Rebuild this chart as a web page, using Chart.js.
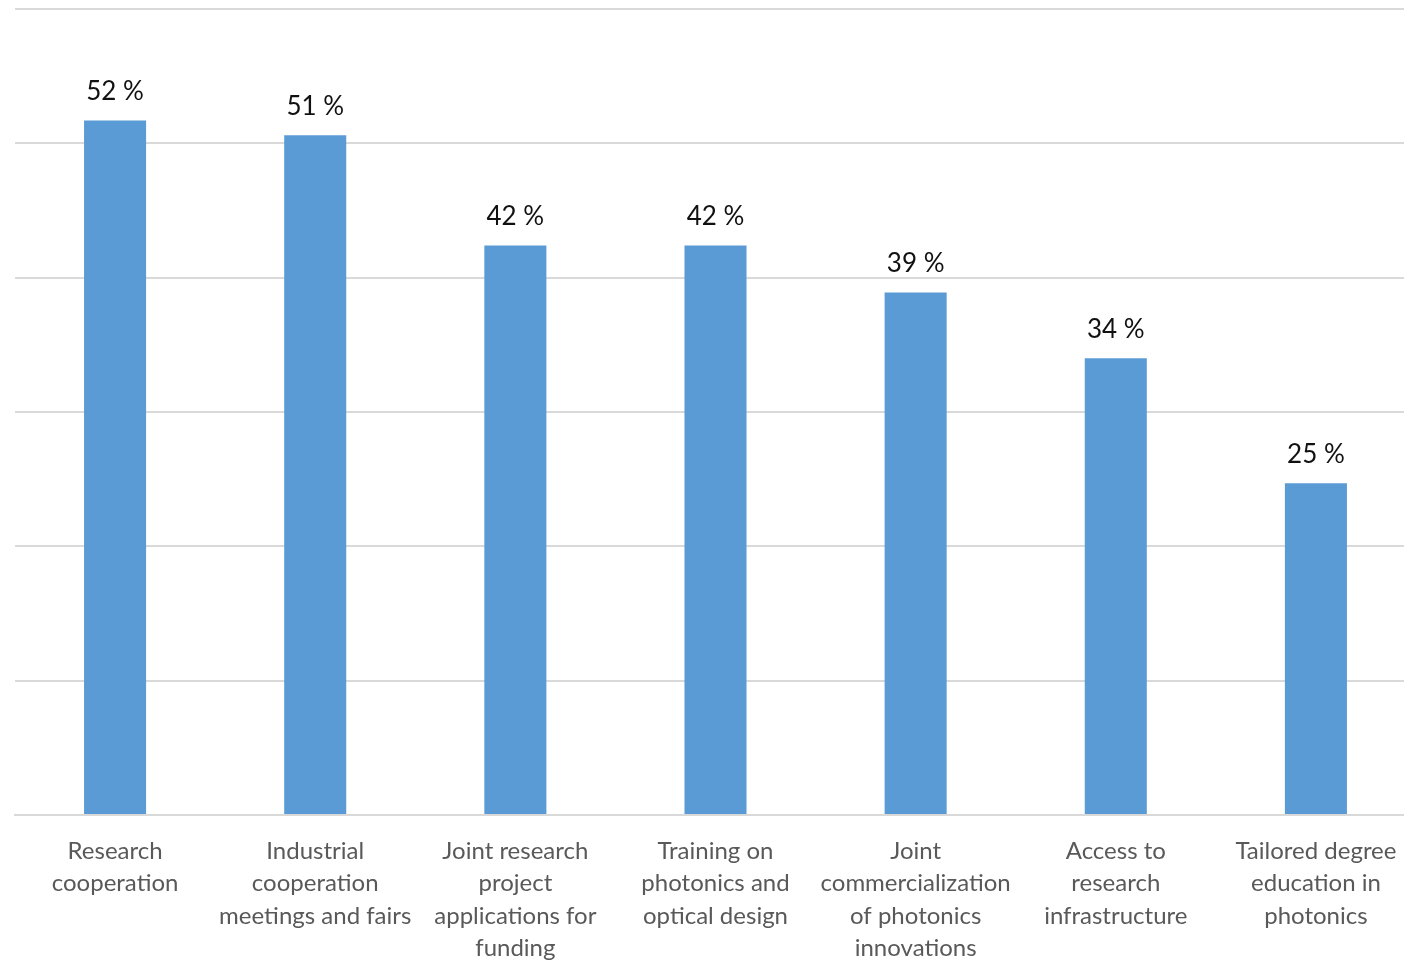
<!DOCTYPE html>
<html>
<head>
<meta charset="utf-8">
<script src="https://cdn.jsdelivr.net/npm/chart.js@4"></script>
<style>
  html, body { margin: 0; padding: 0; background: #fff; overflow: hidden; }
  #wrap { width: 1416px; height: 961px; }
</style>
</head>
<body>
<div id="wrap"><canvas id="chart" width="1416" height="961"></canvas></div>
<script>
// ==========================
//  DATA
// ==========================
const categories = [
  ['Research', 'cooperation'],
  ['Industrial', 'cooperation', 'meetings and fairs'],
  ['Joint research', 'project', 'applications for', 'funding'],
  ['Training on', 'photonics and', 'optical design'],
  ['Joint', 'commercialization', 'of photonics', 'innovations'],
  ['Access to', 'research', 'infrastructure'],
  ['Tailored degree', 'education in', 'photonics']
];
const shares = [51.7, 50.6, 42.4, 42.4, 38.9, 34.0, 24.7];
const yTicks = [0, 10, 20, 30, 40, 50, 60];

// ==========================
//  LABELS ON TOP OF BARS
// ==========================
const barLabels = {
  id: 'barLabels',
  afterDatasetsDraw(chart) {
    const ctx = chart.ctx;
    const meta = chart.getDatasetMeta(0);
    ctx.save();
    ctx.font = '26px Lato';
    ctx.fillStyle = '#111';
    ctx.textAlign = 'center';
    ctx.textBaseline = 'bottom';
    meta.data.forEach((bar, i) => {
      ctx.fillText(Math.round(shares[i]) + ' %', bar.x, bar.y - 16);
    });
    ctx.restore();
  }
};

new Chart(document.getElementById('chart'), {
  type: 'bar',
  data: {
    labels: categories,
    datasets: [{
      data: shares,
      backgroundColor: '#5b9bd5',
      categoryPercentage: 1,
      barPercentage: 0.31
    }]
  },
  options: {
    responsive: false,
    animation: false,
    layout: { padding: { left: 15, top: 9, right: 0, bottom: 0 } },
    plugins: { legend: { display: false }, tooltip: { enabled: false } },
    scales: {
      x: {
        grid: { display: false },
        border: { color: '#d9d9d9', width: 2 },
        ticks: {
          color: '#595959',
          font: { family: 'Lato', size: 24, lineHeight: 1.354 },
          padding: 12,
          maxRotation: 0,
          autoSkip: false
        },
        afterFit: s => { s.height = 146; }
      },
      y: {
        min: 0,
        max: 60,
        afterBuildTicks: s => { s.ticks = yTicks.map(v => ({ value: v })); },
        ticks: { display: false },
        grid: { color: '#d9d9d9', lineWidth: 2, drawTicks: false },
        border: { display: false },
        afterFit: s => { s.width = 0; }
      }
    }
  },
  plugins: [barLabels]
});
</script>
</body>
</html>
